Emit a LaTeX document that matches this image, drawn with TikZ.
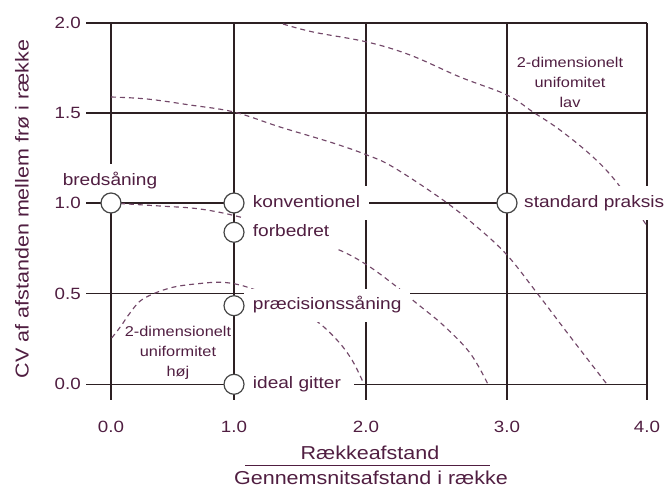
\documentclass[tikz,border=0pt]{standalone}
\usepackage{fontspec}
\setmainfont{Liberation Sans}[FakeStretch=1.15]
\definecolor{textc}{RGB}{80,30,65}
\definecolor{gridc}{RGB}{45,32,35}
\definecolor{dashc}{RGB}{115,72,105}
\definecolor{circc}{RGB}{70,70,70}
\begin{document}
\begin{tikzpicture}[x=1pt,y=-1pt,
  gridline/.style={draw=gridc,line width=1.25pt},
  curve/.style={draw=dashc,line width=1.15pt,dash pattern=on 5pt off 4pt},
  pt/.style={circle,draw=circc,fill=white,line width=1.2pt,minimum size=20pt,inner sep=0pt},
  lbl/.style={fill=white,text=textc,font=\fontsize{16.6}{20}\selectfont,anchor=west,inner xsep=9pt,inner ysep=9pt,text height=12pt,text depth=3.5pt},
  tick/.style={text=textc,font=\fontsize{16.3}{20}\selectfont,inner sep=0pt},
  note/.style={text=textc,font=\fontsize{14.2}{20}\selectfont,align=center,inner sep=0pt},
  axt/.style={text=textc,font=\fontsize{18.7}{22}\selectfont,inner sep=0pt}]
\useasboundingbox (0,0) rectangle (664,487);
% grid
\foreach \y in {23,113,203,293.7,384.3} \draw[gridline] (86,\y) -- (647,\y);
\foreach \x in {111,234,366,507,647} \draw[gridline] (\x,23) -- (\x,400);
% dashed curves
\draw[curve] plot[smooth,tension=0.6] coordinates {(283,24) (313,32) (367,42) (410,55) (460,77) (507,95) (533,112) (560,130) (593,157) (618,184) (647,226)};
\draw[curve] plot[smooth,tension=0.6] coordinates {(111,97) (147,99) (190,105) (234,112) (280,127) (333,143) (367,155) (393,167) (443,200) (477,227) (507,255) (537,293) (572,339) (607,384.3)};
\draw[curve] plot[smooth,tension=0.6] coordinates {(111,203) (160,206) (200,209) (240,217) (290,232) (337,249) (367,265) (397,287) (415,302) (443,325) (470,353) (488,384.3)};
\draw[curve] plot[smooth,tension=0.6] coordinates {(111.7,338) (121,326) (130,313) (143,299) (170,288) (200,283.5) (225,282.5) (250,288) (283,302) (315,320) (337,340) (352,360) (363,382)};
% labels
\node[lbl] (lkonv) at (243.7,203) {konventionel};
\node[lbl] (lforb) at (243.7,232.3) {forbedret};
\node[lbl] (lpraec) at (243.7,305.7) {præcisionssåning};
\node[lbl,inner xsep=13pt] (lideal) at (239.7,384.3) {ideal gitter};
\node[lbl] (lstd) at (515,203) {standard praksis};
\node[lbl,anchor=center] (lbred) at (110,181) {bredsåning};
% points
\node[pt] (bred) at (111,203) {};
\node[pt] (konv) at (234,203) {};
\node[pt] (forb) at (234,232.3) {};
\node[pt] (praec) at (234,305.7) {};
\node[pt] (ideal) at (234,384.3) {};
\node[pt] (std) at (507,203) {};
% notes
\node[note] (nlav) at (570,82) {2-dimensionelt\\unifomitet\\lav};
\node[note] (nhoj) at (178,353) {2-dimensionelt\\uniformitet\\høj};
% y ticks
\node[tick,anchor=east] (ty20) at (81,23) {2.0};
\node[tick,anchor=east] (ty15) at (81,113) {1.5};
\node[tick,anchor=east] (ty10) at (81,203) {1.0};
\node[tick,anchor=east] (ty05) at (81,293.7) {0.5};
\node[tick,anchor=east] (ty00) at (81,384.3) {0.0};
% x ticks
\node[tick] (tx0) at (111,426.7) {0.0};
\node[tick] (tx1) at (234,426.7) {1.0};
\node[tick] (tx2) at (366,426.7) {2.0};
\node[tick] (tx3) at (507,426.7) {3.0};
\node[tick] (tx4) at (647,426.7) {4.0};
% axis titles
\node[axt,anchor=base] (xt1) at (370,459.5) {Rækkeafstand};
\coordinate (fl) at (245,465);
\coordinate (fr) at (490,465);
\draw[draw=textc,line width=1pt] (fl) -- (fr);
\node[axt,anchor=base] (xt2) at (371,484.5) {Gennemsnitsafstand i række};
\node[axt,rotate=90] (yt) at (22,209) {CV af afstanden mellem frø i række};
\end{tikzpicture}
\end{document}
